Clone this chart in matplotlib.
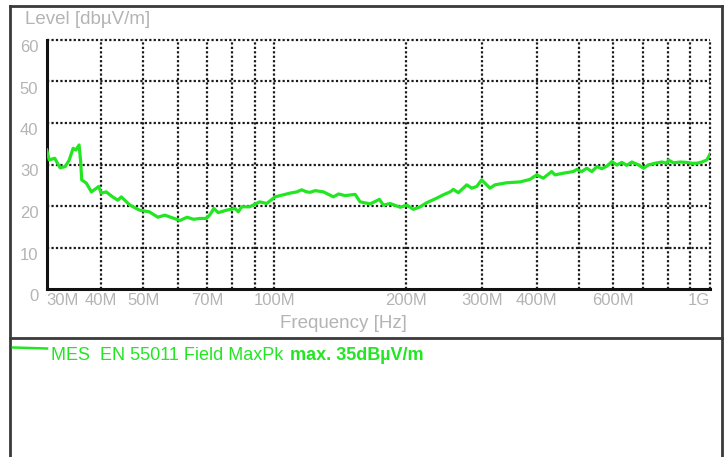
import matplotlib
matplotlib.use("Agg")
import matplotlib.pyplot as plt
from matplotlib.lines import Line2D

freq_mhz = [30, 30.4, 31.3, 32.2, 33.1, 33.8, 34.5, 35.0, 35.6, 35.9, 36.1, 37.0, 38.0,
            39.5, 40.0, 41.1, 42.5, 43.7, 44.5, 46.6, 49.0, 51.6, 54.0, 56.0, 57.4,
            60.7, 63.0, 65.2, 67.5, 69.8, 71.0, 72.6, 74.3, 77.7, 81.2, 82.6, 84.1,
            87.7, 92.5, 96.0, 100.3, 104.8, 108.6, 112.5, 115.5, 118.6,
            120.7, 124.0, 129.6, 136.6, 140.3, 145.3, 153.2, 157.3, 165.9, 174.2,
            177.9, 184.3, 194.4, 201.4, 208.5, 216.0, 223.8, 235.9, 244.3, 253.1,
            257.5, 264.4, 276.4, 283.8, 291.4, 299.0, 312.5, 320.9, 341.3, 366.1,
            386.0, 400.0, 414.2, 433.0, 440.7, 460.5, 485.4, 494.2, 507.4,
            521.4, 535.5, 549.8, 564.6, 579.7, 595.3, 611.2, 627.6, 644.4, 661.6,
            685.1, 703.4, 722.3, 748.4, 775.3, 796.1, 802.9, 824.5, 853.9, 885.0,
            908.8, 933.2, 958.1, 983.8, 1000]
level_db = [33.5, 31.1, 31.5, 29.2, 29.5, 31.1, 33.9, 33.5, 34.7, 30.7, 26.3, 25.5, 23.4,
            24.7, 23.1, 23.4, 22.2, 21.4, 22.2, 20.2, 19.0, 18.6, 17.3, 17.8, 17.4,
            16.5, 17.3, 16.8, 17.0, 17.0, 17.8, 19.4, 18.4, 19.0, 19.4, 18.6, 19.8,
            19.8, 21.0, 20.6, 22.2, 22.7, 23.1, 23.4, 23.9, 23.4,
            23.3, 23.7, 23.4, 22.2, 22.9, 22.5, 22.8, 21.0, 20.5, 21.6,
            20.2, 20.6, 19.7, 20.2, 19.2, 19.8, 20.8, 21.9, 22.7, 23.4,
            24.0, 23.2, 25.1, 24.3, 24.7, 26.3, 24.3, 25.1, 25.6, 25.8,
            26.4, 27.5, 26.7, 28.3, 27.5, 27.9, 28.3, 28.8, 28.3,
            29.1, 28.3, 29.5, 29.0, 29.6, 30.7, 29.9, 30.5, 29.8, 30.6,
            29.9, 29.1, 29.9, 30.3, 30.6, 30.3, 31.1, 30.4, 30.6, 30.5,
            30.3, 30.3, 30.6, 31.1, 32.5]

grid_freqs = [40, 50, 60, 70, 80, 90, 100, 200, 300, 400, 500, 600, 700, 800, 900, 1000]
tick_freqs = [30, 40, 50, 70, 100, 200, 300, 400, 600, 1000]
tick_labels = ["30M", "40M", "50M", "70M", "100M", "200M", "300M", "400M", "600M", "1G"]
y_ticks = [0, 10, 20, 30, 40, 50, 60]

GRUEN = "#22e622"
GRAU = "#b4b4b4"
W, H = 727, 457

plt.rcParams["font.family"] = ["Liberation Sans", "DejaVu Sans"]

fig = plt.figure(figsize=(W / 100, H / 100), dpi=100)
fig.patch.set_facecolor("white")


def fx(px):  # Pixel -> Figurkoordinaten
    return px / W


def fy(py):
    return 1 - py / H


ax = fig.add_axes([fx(46.7), fy(289), fx(710) - fx(46.7), fy(40) - fy(289)])
ax.set_xscale("log")
ax.set_xlim(30, 1000)
ax.set_ylim(0, 60)

# Gitter (auch oberer und rechter Rand gepunktet)
gitter = dict(color="#1a1a1a", linestyle=(0, (1, 1)), linewidth=1.6, zorder=1, clip_on=False)
for f in grid_freqs:
    ax.axvline(f, **gitter)
for y in y_ticks[1:]:
    ax.axhline(y, **gitter)

ax.plot(freq_mhz, level_db, color=GRUEN, linewidth=2.3, zorder=3)

# Achsen
for s in ["top", "right"]:
    ax.spines[s].set_visible(False)
for s in ["left", "bottom"]:
    ax.spines[s].set_linewidth(2.2)
    ax.spines[s].set_color("#111111")

ax.xaxis.set_major_locator(matplotlib.ticker.FixedLocator(tick_freqs))
ax.xaxis.set_minor_locator(matplotlib.ticker.NullLocator())
ax.set_xticklabels(tick_labels)
ax.set_yticks(y_ticks)
ax.tick_params(axis="both", length=0, labelsize=12, labelcolor=GRAU)
ax.tick_params(axis="x", pad=3)
ax.tick_params(axis="y", pad=6)
xl = ax.get_xticklabels()
xl[0].set_ha("left")
xl[-1].set_ha("right")
for lbl in ax.get_yticklabels():
    lbl.set_va("top")

fig.text(fx(25), fy(20), "Level [dbµV/m]", color=GRAU, fontsize=13.5, va="center", ha="left")
fig.text(fx(343), fy(323), "Frequency [Hz]", color=GRAU, fontsize=13.5, va="center", ha="center")

# Rahmen
rahmen = dict(color="#3a3a3a", linewidth=2, transform=fig.transFigure)
fig.add_artist(Line2D([fx(10), fx(10)], [fy(6), fy(470)], **rahmen))
fig.add_artist(Line2D([fx(722), fx(722)], [fy(6), fy(470)], **rahmen))
fig.add_artist(Line2D([fx(10), fx(722)], [fy(6), fy(6)], **rahmen))
fig.add_artist(Line2D([fx(10), fx(722)], [fy(337.5), fy(337.5)], **rahmen))

# Legende
fig.add_artist(Line2D([fx(13), fx(47)], [fy(347.5), fy(348.5)], color=GRUEN,
                      linewidth=1.8, transform=fig.transFigure))
fig.text(fx(51), fy(355), "MES  EN 55011 Field MaxPk", color=GRUEN, fontsize=13,
         va="center", ha="left")
fig.text(fx(290), fy(355), "max. 35dBµV/m", color=GRUEN, fontsize=13,
         fontweight="bold", va="center", ha="left")

fig.savefig("out.png", dpi=100)
